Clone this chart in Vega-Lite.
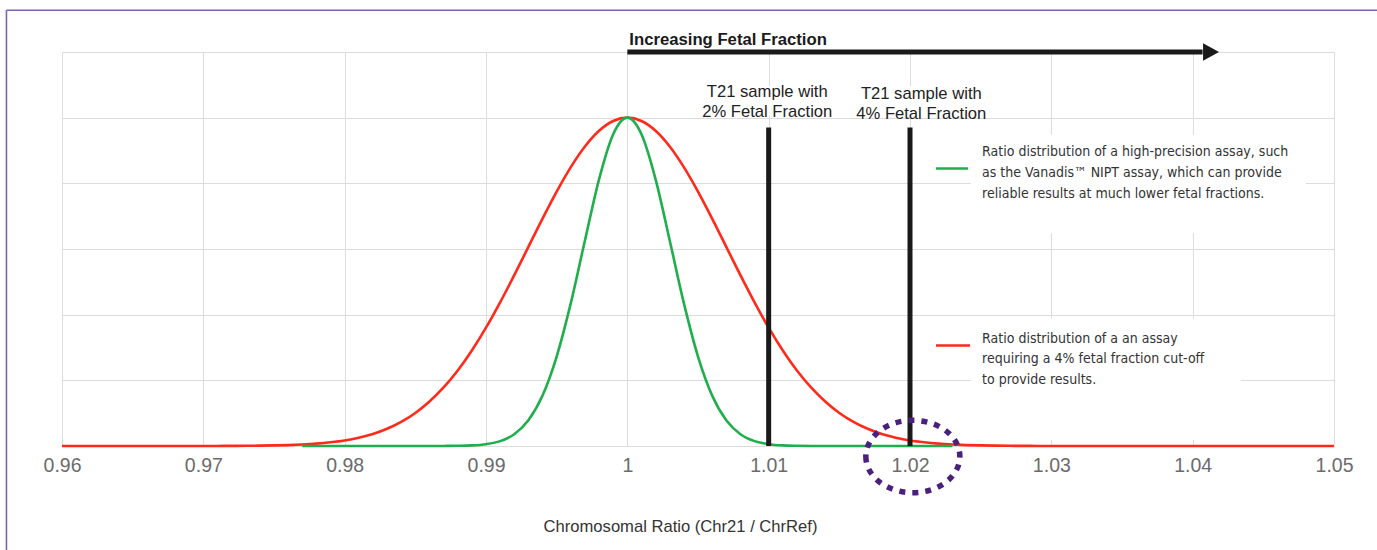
{
  "$schema": "https://vega.github.io/schema/vega-lite/v6.json",
  "width": 1272,
  "height": 394,
  "autosize": {"type": "none"},
  "padding": {"left": 62, "top": 52, "right": 43, "bottom": 104},
  "background": "white",
  "config": {
    "view": {"stroke": null},
    "axis": {"gridColor": "#dcdcdc", "gridWidth": 1}
  },
  "datasets": {
    "curves": [
      {"ratio": 0.96, "cutoff": 0},
      {"ratio": 0.965, "cutoff": 0},
      {"ratio": 0.97, "cutoff": 0},
      {"ratio": 0.971, "cutoff": 0.001},
      {"ratio": 0.972, "cutoff": 0.002},
      {"ratio": 0.973, "cutoff": 0.003},
      {"ratio": 0.974, "cutoff": 0.005},
      {"ratio": 0.975, "cutoff": 0.009},
      {"ratio": 0.976, "cutoff": 0.014},
      {"ratio": 0.977, "cutoff": 0.023, "precision": 0},
      {"ratio": 0.978, "cutoff": 0.036, "precision": 0},
      {"ratio": 0.979, "cutoff": 0.056, "precision": 0},
      {"ratio": 0.98, "cutoff": 0.084, "precision": 0},
      {"ratio": 0.981, "cutoff": 0.126, "precision": 0},
      {"ratio": 0.982, "cutoff": 0.183, "precision": 0},
      {"ratio": 0.983, "cutoff": 0.262, "precision": 0},
      {"ratio": 0.984, "cutoff": 0.367, "precision": 0},
      {"ratio": 0.985, "cutoff": 0.503, "precision": 0},
      {"ratio": 0.986, "cutoff": 0.677, "precision": 0},
      {"ratio": 0.987, "cutoff": 0.891, "precision": 0.001},
      {"ratio": 0.988, "cutoff": 1.15, "precision": 0.003},
      {"ratio": 0.989, "cutoff": 1.455, "precision": 0.009},
      {"ratio": 0.99, "cutoff": 1.802, "precision": 0.028},
      {"ratio": 0.991, "cutoff": 2.188, "precision": 0.074},
      {"ratio": 0.992, "cutoff": 2.602, "precision": 0.179},
      {"ratio": 0.993, "cutoff": 3.033, "precision": 0.391},
      {"ratio": 0.994, "cutoff": 3.463, "precision": 0.768},
      {"ratio": 0.995, "cutoff": 3.874, "precision": 1.362},
      {"ratio": 0.996, "cutoff": 4.247, "precision": 2.175},
      {"ratio": 0.997, "cutoff": 4.561, "precision": 3.13},
      {"ratio": 0.998, "cutoff": 4.8, "precision": 4.061},
      {"ratio": 0.999, "cutoff": 4.949, "precision": 4.747},
      {"ratio": 1.0, "cutoff": 5, "precision": 5},
      {"ratio": 1.001, "cutoff": 4.949, "precision": 4.747},
      {"ratio": 1.002, "cutoff": 4.8, "precision": 4.061},
      {"ratio": 1.003, "cutoff": 4.561, "precision": 3.13},
      {"ratio": 1.004, "cutoff": 4.247, "precision": 2.175},
      {"ratio": 1.005, "cutoff": 3.874, "precision": 1.362},
      {"ratio": 1.006, "cutoff": 3.463, "precision": 0.768},
      {"ratio": 1.007, "cutoff": 3.033, "precision": 0.391},
      {"ratio": 1.008, "cutoff": 2.602, "precision": 0.179},
      {"ratio": 1.009, "cutoff": 2.188, "precision": 0.074},
      {"ratio": 1.01, "cutoff": 1.802, "precision": 0.028},
      {"ratio": 1.011, "cutoff": 1.455, "precision": 0.009},
      {"ratio": 1.012, "cutoff": 1.15, "precision": 0.003},
      {"ratio": 1.013, "cutoff": 0.891, "precision": 0.001},
      {"ratio": 1.014, "cutoff": 0.677, "precision": 0},
      {"ratio": 1.015, "cutoff": 0.503, "precision": 0},
      {"ratio": 1.016, "cutoff": 0.367, "precision": 0},
      {"ratio": 1.017, "cutoff": 0.262, "precision": 0},
      {"ratio": 1.018, "cutoff": 0.183, "precision": 0},
      {"ratio": 1.019, "cutoff": 0.126, "precision": 0},
      {"ratio": 1.02, "cutoff": 0.084, "precision": 0},
      {"ratio": 1.021, "cutoff": 0.056, "precision": 0},
      {"ratio": 1.022, "cutoff": 0.036, "precision": 0},
      {"ratio": 1.023, "cutoff": 0.023, "precision": 0},
      {"ratio": 1.024, "cutoff": 0.014},
      {"ratio": 1.025, "cutoff": 0.009},
      {"ratio": 1.026, "cutoff": 0.005},
      {"ratio": 1.027, "cutoff": 0.003},
      {"ratio": 1.028, "cutoff": 0.002},
      {"ratio": 1.029, "cutoff": 0.001},
      {"ratio": 1.03, "cutoff": 0},
      {"ratio": 1.035, "cutoff": 0},
      {"ratio": 1.04, "cutoff": 0},
      {"ratio": 1.045, "cutoff": 0},
      {"ratio": 1.05, "cutoff": 0}
    ],
    "boxes": [
      {"x0": 1.0243, "x1": 1.048, "y0": 3.24, "y1": 4.74},
      {"x0": 1.0243, "x1": 1.0434, "y0": 0.09, "y1": 1.94},
      {"x0": 1.0049, "x1": 1.0148, "y0": 5.03, "y1": 5.48},
      {"x0": 1.0161, "x1": 1.0256, "y0": 5.03, "y1": 5.48}
    ],
    "frame": [
      {"x0": 0.95607, "x1": 1.0535, "y0": 6.636, "y1": 6.636},
      {"x0": 0.95607, "x1": 0.95607, "y0": -1.7, "y1": 6.636}
    ],
    "samples": [
      {"ratio": 1.01, "bottom": 0, "top": 4.85},
      {"ratio": 1.02, "bottom": 0, "top": 4.85}
    ],
    "arrow": [
      {"start": 1.0, "end": 1.0407, "head": 1.0413, "level": 6, "labelX": 1.00014, "labelY": 6.18, "text": "Increasing Fetal Fraction"}
    ],
    "circle": [
      {"ratio": 1.0202, "level": -0.16}
    ],
    "sampleLabels": [
      {"ratio": 1.0099, "y": 5.394, "text": "T21 sample with"},
      {"ratio": 1.0099, "y": 5.091, "text": "2% Fetal Fraction"},
      {"ratio": 1.0208, "y": 5.364, "text": "T21 sample with"},
      {"ratio": 1.0208, "y": 5.06, "text": "4% Fetal Fraction"}
    ],
    "legendText": [
      {"ratio": 1.0251, "y": 4.477, "text": "Ratio distribution of a high-precision assay, such"},
      {"ratio": 1.0251, "y": 4.152, "text": "as the Vanadis™ NIPT assay, which can provide"},
      {"ratio": 1.0251, "y": 3.833, "text": "reliable results at much lower fetal fractions."},
      {"ratio": 1.0251, "y": 1.629, "text": "Ratio distribution of a an assay"},
      {"ratio": 1.0251, "y": 1.318, "text": "requiring a 4% fetal fraction cut-off"},
      {"ratio": 1.0251, "y": 1.0, "text": "to provide results."}
    ],
    "swatches": [
      {"x0": 1.02184, "x1": 1.02411, "y": 4.227, "assay": "high-precision"},
      {"x0": 1.02184, "x1": 1.02425, "y": 1.53, "assay": "cut-off"}
    ]
  },
  "layer": [
    {
      "data": {"name": "boxes"},
      "mark": {"type": "rect", "fill": "white"},
      "encoding": {
        "x": {
          "field": "x0", "type": "quantitative",
          "scale": {"domain": [0.96, 1.05], "nice": false, "zero": false},
          "axis": {
            "values": [0.96, 0.97, 0.98, 0.99, 1, 1.01, 1.02, 1.03, 1.04, 1.05],
            "labelExpr": "'' + datum.value",
            "title": "Chromosomal Ratio (Chr21 / ChrRef)",
            "domain": false, "ticks": false, "grid": true,
            "labelFont": "Liberation Sans", "labelFontSize": 19.5, "labelColor": "#6b6b6b",
            "labelPadding": 10, "labelFlush": false, "labelOverlap": false,
            "titleFont": "Liberation Sans", "titleFontSize": 16.6, "titleFontWeight": "normal",
            "titleColor": "#333333", "titlePadding": 44, "titleX": 618, "titleAlign": "center"
          }
        },
        "x2": {"field": "x1"},
        "y": {
          "field": "y0", "type": "quantitative",
          "scale": {"domain": [0, 6], "nice": false, "zero": false},
          "axis": {
            "values": [0, 1, 2, 3, 4, 5, 6],
            "labels": false, "ticks": false, "domain": false, "grid": true, "title": null
          }
        },
        "y2": {"field": "y1"}
      }
    },
    {
      "data": {"name": "frame"},
      "mark": {"type": "rule", "color": "#7d63ad", "strokeWidth": 1.6},
      "encoding": {
        "x": {"field": "x0", "type": "quantitative"},
        "x2": {"field": "x1"},
        "y": {"field": "y0", "type": "quantitative"},
        "y2": {"field": "y1"}
      }
    },
    {
      "data": {"name": "curves"},
      "mark": {"type": "line", "color": "#ff2a1a", "strokeWidth": 2.6, "interpolate": "monotone"},
      "encoding": {
        "x": {"field": "ratio", "type": "quantitative"},
        "y": {"field": "cutoff", "type": "quantitative"}
      }
    },
    {
      "data": {"name": "curves"},
      "mark": {"type": "line", "color": "#1fae4c", "strokeWidth": 2.6, "interpolate": "monotone"},
      "encoding": {
        "x": {"field": "ratio", "type": "quantitative"},
        "y": {"field": "precision", "type": "quantitative"}
      }
    },
    {
      "data": {"name": "samples"},
      "mark": {"type": "rule", "color": "#1a1a1a", "strokeWidth": 5},
      "encoding": {
        "x": {"field": "ratio", "type": "quantitative"},
        "y": {"field": "bottom", "type": "quantitative"},
        "y2": {"field": "top"}
      }
    },
    {
      "data": {"name": "arrow"},
      "mark": {"type": "rule", "color": "#1a1a1a", "strokeWidth": 5},
      "encoding": {
        "x": {"field": "start", "type": "quantitative"},
        "x2": {"field": "end"},
        "y": {"field": "level", "type": "quantitative"}
      }
    },
    {
      "data": {"name": "arrow"},
      "mark": {"type": "point", "shape": "M -1 -1.1 L 1 0 L -1 1.1 Z", "size": 256, "filled": true, "fill": "#1a1a1a", "opacity": 1},
      "encoding": {
        "x": {"field": "head", "type": "quantitative"},
        "y": {"field": "level", "type": "quantitative"}
      }
    },
    {
      "data": {"name": "arrow"},
      "mark": {"type": "text", "font": "Liberation Sans", "fontSize": 16.7, "fontWeight": "bold", "color": "#1a1a1a", "align": "left", "baseline": "middle"},
      "encoding": {
        "x": {"field": "labelX", "type": "quantitative"},
        "y": {"field": "labelY", "type": "quantitative"},
        "text": {"field": "text"}
      }
    },
    {
      "data": {"name": "sampleLabels"},
      "mark": {"type": "text", "font": "Liberation Sans", "fontSize": 16.6, "color": "#222222", "align": "center", "baseline": "middle"},
      "encoding": {
        "x": {"field": "ratio", "type": "quantitative"},
        "y": {"field": "y", "type": "quantitative"},
        "text": {"field": "text"}
      }
    },
    {
      "data": {"name": "legendText"},
      "mark": {"type": "text", "font": "Liberation Sans Narrow, DejaVu Sans Condensed, sans-serif", "fontSize": 14, "color": "#333333", "align": "left", "baseline": "middle"},
      "encoding": {
        "x": {"field": "ratio", "type": "quantitative"},
        "y": {"field": "y", "type": "quantitative"},
        "text": {"field": "text"}
      }
    },
    {
      "data": {"name": "swatches"},
      "mark": {"type": "rule", "strokeWidth": 2.6},
      "encoding": {
        "x": {"field": "x0", "type": "quantitative"},
        "x2": {"field": "x1"},
        "y": {"field": "y", "type": "quantitative"},
        "color": {"field": "assay", "type": "nominal", "scale": {"domain": ["high-precision", "cut-off"], "range": ["#1fae4c", "#ff2a1a"]}, "legend": null}
      }
    },
    {
      "data": {"name": "circle"},
      "mark": {"type": "point", "shape": "M -1 0 A 1 0.77 0 1 0 1 0 A 1 0.77 0 1 0 -1 0 Z", "size": 8836, "filled": false, "stroke": "#4b1f7d", "strokeWidth": 5.5, "strokeDash": [6, 7], "opacity": 1},
      "encoding": {
        "x": {"field": "ratio", "type": "quantitative"},
        "y": {"field": "level", "type": "quantitative"}
      }
    }
  ]
}
